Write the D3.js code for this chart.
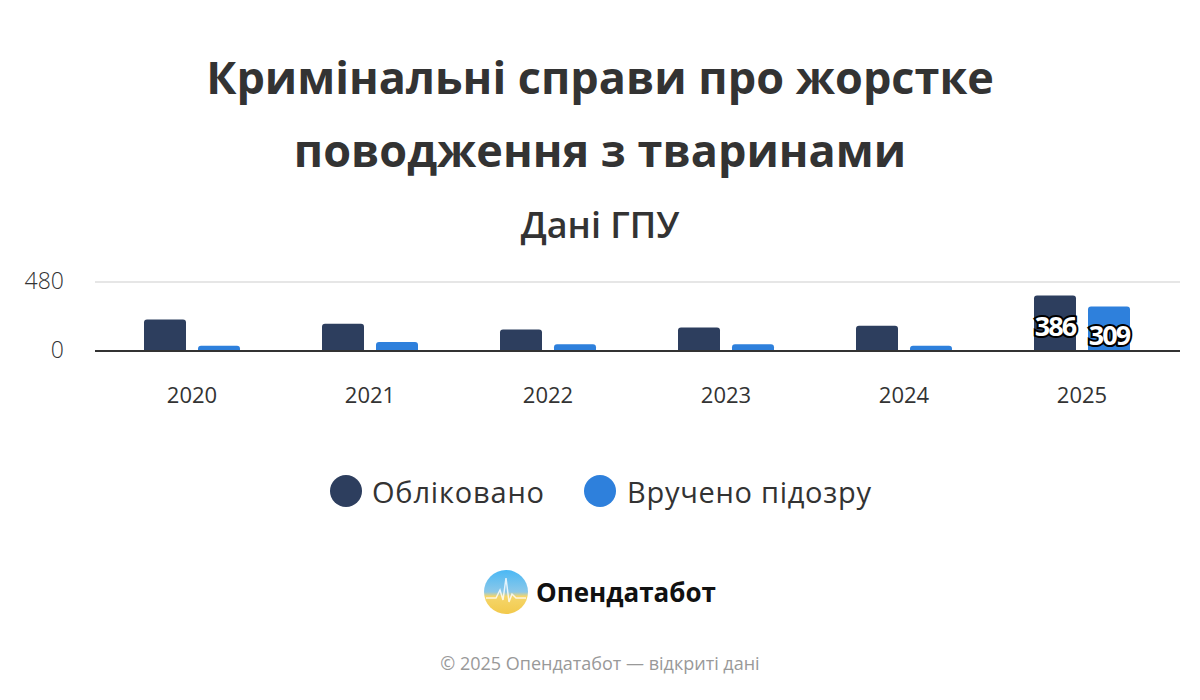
<!DOCTYPE html><html><head><meta charset="utf-8"><script src="https://cdn.jsdelivr.net/npm/d3@7"></script>
<style>body{margin:0;background:#fff}text{font-family:"Segoe UI","Open Sans","Noto Sans",sans-serif}</style></head><body>
<svg id="c" width="1200" height="700"></svg>
<script>
const years=["2020","2021","2022","2023","2024","2025"];
const registered=[220,190,150,163,176,386];
const suspected=[36,62,47,47,36,309];
const yTicks=[0,480];
const seriesNames=["Обліковано","Вручено підозру"];
const colors=["#2d3e5e","#2e80dc"];
const svg=d3.select("#c");
svg.append("rect").attr("width",1200).attr("height",700).attr("fill","#fff");
const title=svg.append("text").attr("text-anchor","middle").attr("font-size",45).attr("font-weight",700).attr("fill","#333");
title.append("tspan").attr("x",600).attr("y",94).text("Кримінальні справи про жорстке");
title.append("tspan").attr("x",600).attr("y",167).text("поводження з тваринами");
svg.append("text").attr("x",600).attr("y",238).attr("text-anchor","middle").attr("font-size",36).attr("font-weight",600).attr("fill","#333").text("Дані ГПУ");
const x=d3.scaleBand().domain(years).range([103,1171]);
const y=d3.scaleLinear().domain([0,480]).range([351,282]);
yTicks.forEach(t=>{
 if(t>0) svg.append("line").attr("x1",95).attr("x2",1180).attr("y1",y(t)).attr("y2",y(t)).attr("stroke","#e6e6e6").attr("stroke-width",2);
 svg.append("text").attr("x",64).attr("y",y(t)+7).attr("text-anchor","end").attr("font-size",23).attr("font-weight",300).attr("fill","#333").text(t);
});
const bw=42;
[registered,suspected].forEach((arr,si)=>{
 svg.selectAll(null).data(arr).join("path").attr("fill",colors[si]).attr("d",(d,i)=>{
  const cx=x(years[i])+x.bandwidth()/2+(si?27:-27);const x0=cx-bw/2,t=y(d),b=y(0),r=3;
  return `M${x0},${b}V${t+r}Q${x0},${t} ${x0+r},${t}H${x0+bw-r}Q${x0+bw},${t} ${x0+bw},${t+r}V${b}Z`;});
});
svg.append("line").attr("x1",95).attr("x2",1180).attr("y1",351).attr("y2",351).attr("stroke","#333").attr("stroke-width",2);
years.forEach(yr=>svg.append("text").attr("x",x(yr)+x.bandwidth()/2).attr("y",403).attr("text-anchor","middle").attr("font-size",22).attr("fill","#333").text(yr));
const last=years.length-1;
[[registered,-27,336],[suspected,27,345]].forEach(([arr,off,yy])=>{
 svg.append("text").attr("x",x(years[last])+x.bandwidth()/2+off).attr("y",yy).attr("text-anchor","middle").attr("font-size",27).attr("font-weight",700)
  .attr("fill","#fff").attr("stroke","#000").attr("stroke-width",4).attr("paint-order","stroke").attr("letter-spacing",-2).text(arr[last]);
});
const lg=[[346,372],[600,627]];
seriesNames.forEach((n,i)=>{
 svg.append("circle").attr("cx",lg[i][0]).attr("cy",491).attr("r",16).attr("fill",colors[i]);
 svg.append("text").attr("x",lg[i][1]).attr("y",503).attr("font-size",29).attr("fill","#333").attr("textLength",i?244:172).text(n);
});
const defs=svg.append("defs");
const g=defs.append("linearGradient").attr("id","lg").attr("x1",0).attr("y1",0).attr("x2",0).attr("y2",1);
g.append("stop").attr("offset","0%").attr("stop-color","#4ab8f5");
g.append("stop").attr("offset","50%").attr("stop-color","#8cc8e8");
g.append("stop").attr("offset","60%").attr("stop-color","#f5d66a");
g.append("stop").attr("offset","100%").attr("stop-color","#f2c94c");
svg.append("circle").attr("cx",506).attr("cy",592).attr("r",22).attr("fill","url(#lg)");
svg.append("path").attr("d","M486,598 L496,598 L500,590 L503,600 L506,578 L509,602 L512,594 L516,598 L526,598").attr("fill","none").attr("stroke","#fff").attr("stroke-width",1.5).attr("opacity",0.8);
svg.append("text").attr("x",536).attr("y",602).attr("font-size",26).attr("font-weight",700).attr("fill","#111").attr("textLength",180).text("Опендатабот");
svg.append("text").attr("x",600).attr("y",670).attr("text-anchor","middle").attr("font-size",18).attr("fill","#999").text("© 2025 Опендатабот — відкриті дані");
</script></body></html>
